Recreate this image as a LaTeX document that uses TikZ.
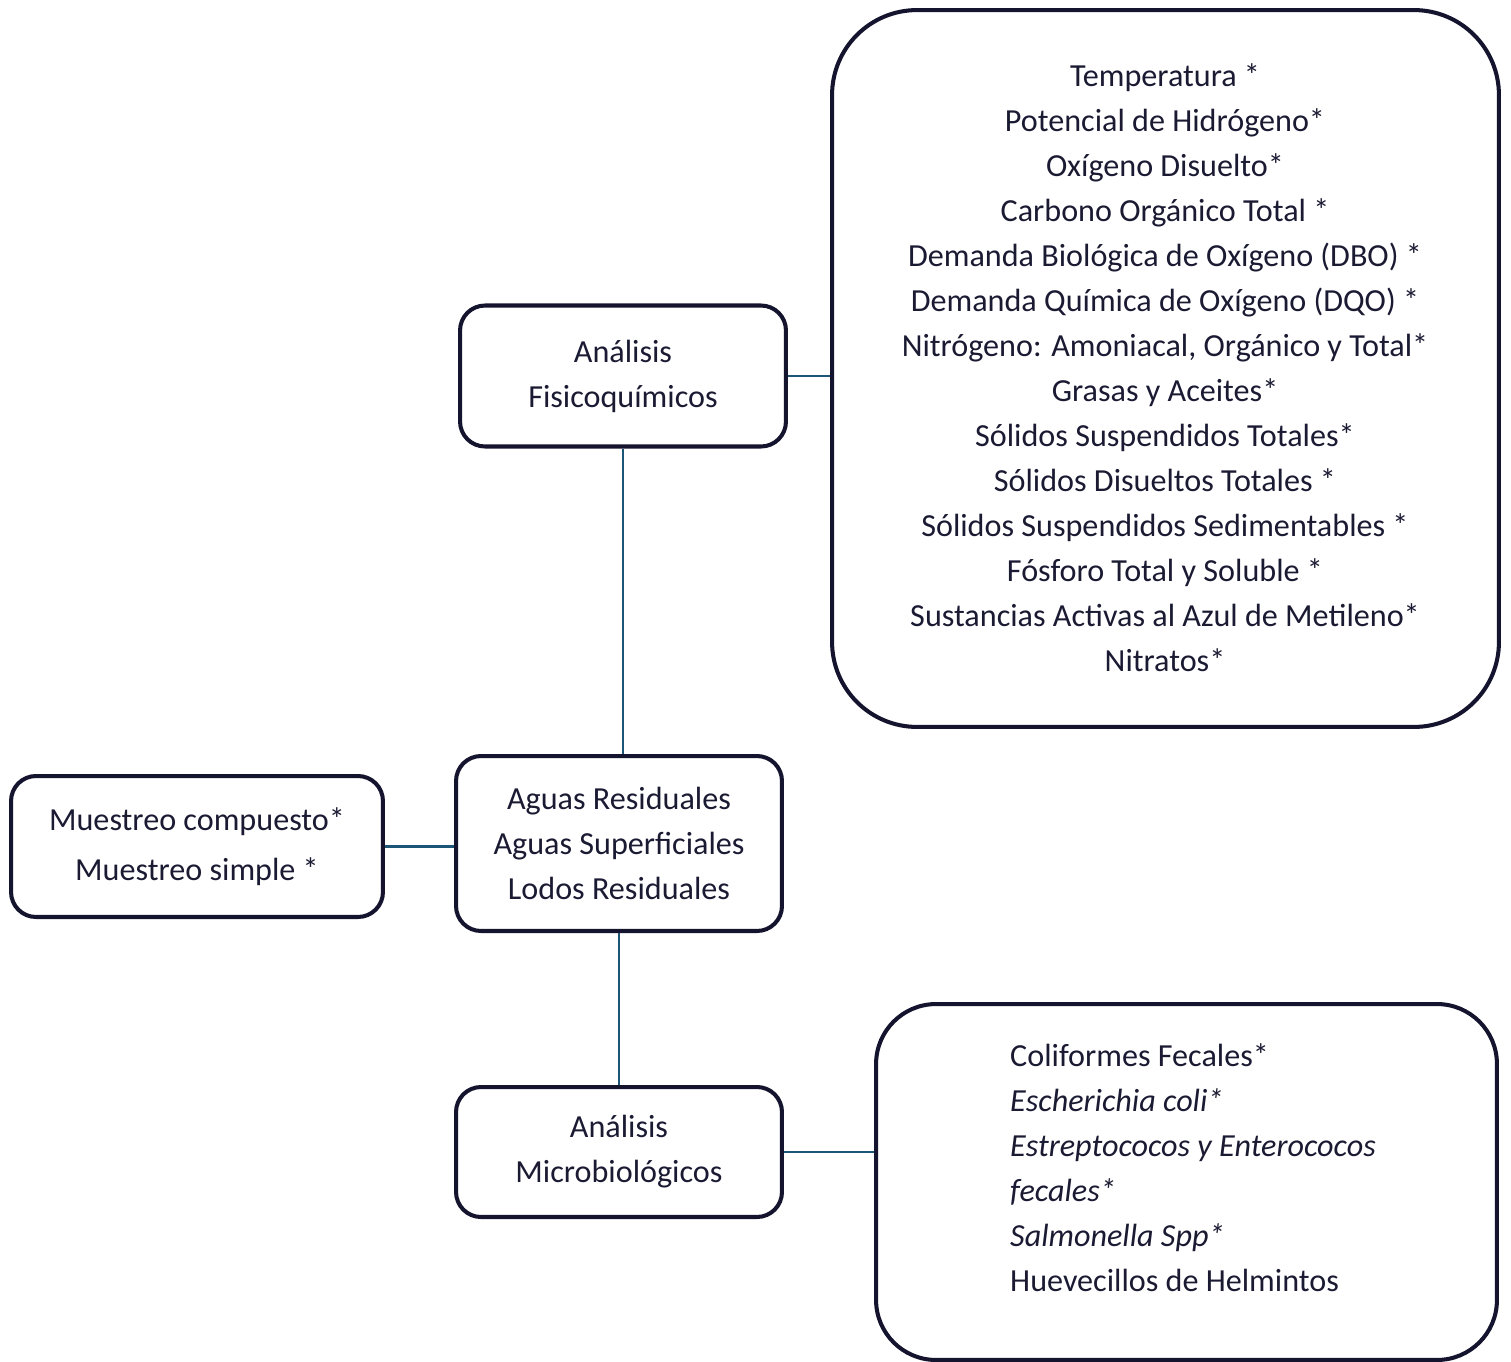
\documentclass[tikz,border=0pt]{standalone}
\usepackage{fontspec}
\setmainfont{Carlito}
\usepackage{tikz}
\usetikzlibrary{positioning}

\definecolor{boxline}{HTML}{15142E}
\definecolor{linkline}{HTML}{1D5577}
\definecolor{inktext}{HTML}{1A1A33}

\begin{document}
\begin{tikzpicture}[x=0.02cm,y=-0.02cm]
    \tikzset{
      topic/.style={
        draw=boxline,
        rounded corners=0.5cm,
        line width=2.3pt,
        align=center,
        text=inktext,
        font=\fontsize{18.3}{25.6}\selectfont
      },
      itemtext/.style={text=inktext, font=\fontsize{18.3}{25.6}\selectfont},
      link/.style={draw=linkline,line width=1.3pt}
    }
    \useasboundingbox (0,0) rectangle (1511,1362);

    \node[topic, minimum width=6.52cm, minimum height=2.82cm] (fisico) at (623,376) {};
    \node[itemtext, align=center] (fisicotxt) at (623,376) {Análisis\\Fisicoquímicos};

    \node[topic, minimum width=13.34cm, minimum height=14.34cm, rounded corners=1.7cm] (params) at (1165.5,368.5) {};
    \node[itemtext, align=center] (paramstxt) at (1165,368) {%
      Temperatura *\\
      Potencial de Hidrógeno*\\
      Oxígeno Disuelto*\\
      Carbono Orgánico Total *\\
      Demanda Biológica de Oxígeno (DBO) *\\
      Demanda Química de Oxígeno (DQO) *\\
      Nitrógeno: Amoniacal, Orgánico y Total*\\
      Grasas y Aceites*\\
      Sólidos Suspendidos Totales*\\
      Sólidos Disueltos Totales *\\
      Sólidos Suspendidos Sedimentables *\\
      Fósforo Total y Soluble *\\
      Sustancias Activas al Azul de Metileno*\\
      Nitratos*};

    \node[topic, minimum width=6.52cm, minimum height=3.5cm] (aguas) at (619,843.5) {};
    \node[itemtext, align=center] (aguastxt) at (619,843) {Aguas Residuales\\Aguas Superficiales\\Lodos Residuales};

    \node[topic, minimum width=7.44cm, minimum height=2.82cm] (muestreo) at (197,846.5) {};
    \node[itemtext, align=center, font=\fontsize{18.3}{28.4}\selectfont] (muestreotxt) at (197,847) {Muestreo compuesto*\\Muestreo simple *};

    \node[topic, minimum width=6.52cm, minimum height=2.6cm] (micro) at (619,1152) {};
    \node[itemtext, align=center] (microtxt) at (619,1152) {Análisis\\Microbiológicos};

    \node[topic, minimum width=12.42cm, minimum height=7.12cm, rounded corners=1.2cm] (organismos) at (1186.5,1182) {};
    \node[itemtext, align=left, anchor=west] (organismostxt) at (1004,1167.5) {%
      Coliformes Fecales*\\
      \textit{Escherichia coli*}\\
      \textit{Estreptococos y Enterococos}\\
      \textit{fecales*}\\
      \textit{Salmonella Spp*}\\
      Huevecillos de Helmintos};

    % conectores
    \draw[link] (fisico.east) -- (fisico.east -| params.west);
    \draw[link] (fisico.south) -- (fisico.south |- aguas.north);
    \draw[link] (muestreo.east) -- (muestreo.east -| aguas.west);
    \draw[link] (aguas.south) -- (micro.north);
    \draw[link] (micro.east) -- (micro.east -| organismos.west);
  \end{tikzpicture}
\end{document}
